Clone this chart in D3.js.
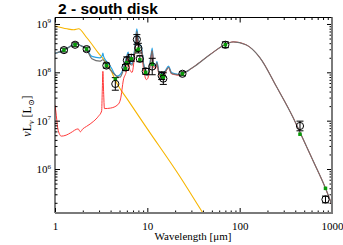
<!DOCTYPE html>
<html>
<head>
<meta charset="utf-8">
<script src="https://cdn.jsdelivr.net/npm/d3@7"></script>
<style>
  body { margin: 0; background: #fff; }
  svg { display: block; }
</style>
</head>
<body>
<script>
// wavelengths in micron, luminosities as log10(nuL_nu / Lsun)
var starLam = [1, 1.35, 1.6, 1.8, 2.2, 3.0, 3.9, 4.6, 6.3, 8.7, 10, 22.6, 40, 50];
var starLog = [8.96, 8.9, 8.88, 8.9, 8.72, 8.38, 8.1, 7.8, 7.4, 7.0, 6.83, 5.84, 5.09, 4.8];

var totLam = [1, 1.26, 1.69, 1.86, 2.2, 2.51, 3.07, 3.3, 3.63, 4.11, 4.66, 5.06, 5.5, 5.96, 6.2, 6.46,
              6.84, 7.24, 7.69, 8.13, 8.59, 9.12, 9.77, 10, 10.5, 11.0, 11.3, 11.7, 12.3, 12.7, 13.3,
              14.1, 15.5, 17.0, 18.2, 20, 21.4, 23.6, 31.6, 47.9, 72.4, 85.1, 117, 166, 251, 380,
              447, 631, 851, 1000];
var totLog = [8.39, 8.46, 8.59, 8.56, 8.47, 8.28, 8.23, 8.26, 8.14, 8.02, 7.92, 7.9, 8.05, 8.3,
              8.38, 8.18, 8.15, 8.4, 8.85, 8.55, 8.5, 8.15, 7.95, 7.93, 8.05, 8.35, 8.45, 8.15,
              8.12, 8.2, 8.0, 7.93, 8.0, 8.1, 7.98, 7.96, 7.95, 7.97, 8.11, 8.37, 8.59, 8.63,
              8.57, 8.3, 7.7, 7.06, 6.77, 6.15, 5.6, 5.25];

var dustLam = [1, 1.02, 1.07, 1.12, 1.17, 1.32, 1.48, 1.78, 1.88, 2.0, 2.19, 2.63, 2.95, 3.2,
               3.25, 3.3, 3.36, 3.43, 3.98, 4.79, 5.13, 5.5, 5.96, 6.2, 6.46, 6.84, 7.24, 7.69,
               8.13, 8.59, 9.12, 9.77, 10, 10.5, 11.0, 11.3, 11.7, 12.3, 12.7, 13.3, 14.1, 15.5,
               17.0, 18.2, 20, 21.4, 23.6, 31.6, 47.9, 72.4, 85.1, 117, 166, 251, 380, 447, 631,
               851, 1000];
var dustLog = [7.32, 7.2, 6.85, 6.72, 6.68, 6.7, 6.75, 6.83, 6.77, 6.83, 6.88, 6.99, 7.09, 7.2,
               7.6, 8.02, 7.6, 7.25, 7.26, 7.33, 7.45, 7.84, 8.05, 8.3, 8.05, 8.0, 8.3, 8.75, 8.45,
               8.45, 8.05, 7.85, 7.86, 8.0, 8.32, 8.43, 8.1, 8.08, 8.17, 7.97, 7.9, 7.98, 8.1, 7.97,
               7.95, 7.94, 7.96, 8.11, 8.37, 8.59, 8.63, 8.57, 8.3, 7.7, 7.06, 6.77, 6.15, 5.6, 5.25];

var blueLam = [1, 1.26, 1.69, 1.86, 2.2, 2.51, 3.07, 3.25, 3.3, 3.36, 3.63, 4.11, 4.47, 4.66, 5.06,
               5.5, 5.96, 6.2, 6.46, 6.84, 7.24, 7.69, 8.13, 8.59, 9.12, 9.77, 10, 10.5, 11.0, 11.3,
               11.7, 12.3, 12.7, 13.3, 14.1, 15.5, 17.0, 18.2, 20, 21.4, 23.6, 28.2];
var blueLog = [8.39, 8.46, 8.59, 8.56, 8.48, 8.33, 8.3, 8.35, 8.4, 8.33, 8.22, 8.08, 7.95, 7.92,
               7.95, 8.08, 8.32, 8.42, 8.22, 8.18, 8.44, 8.9, 8.58, 8.54, 8.18, 7.97, 7.95, 8.07,
               8.37, 8.5, 8.17, 8.14, 8.22, 8.02, 7.95, 8.02, 8.13, 8.0, 7.97, 7.96, 7.97, 8.04];

// observed photometry with errors (dex) and model photometry
var obsLam = [1.25, 1.65, 2.2, 3.6, 4.5, 5.8, 6.0, 6.7, 7.7, 8.0, 8.3, 9.6, 11.3, 14.3, 14.9, 24, 70, 450, 850];
var obsLog = [8.46, 8.57, 8.48, 8.14, 7.76, 8.1, 8.25, 8.3, 8.68, 8.5, 8.28, 8.02, 8.12, 7.93, 7.87, 7.97, 8.57, 6.89, 5.37];
var obsErr = [0.04, 0.04, 0.04, 0.05, 0.13, 0.06, 0.07, 0.07, 0.1, 0.1, 0.06, 0.06, 0.17, 0.08, 0.12, 0.04, 0.06, 0.1, 0.07];
var modLog = [8.46, 8.57, 8.48, 8.14, 7.86, 8.08, 8.2, 8.28, 8.45, 8.48, 8.26, 8.0, 8.17, 7.93, 7.9, 7.97, 8.57, 6.72, 5.6];

var xTicks = [1, 10, 100, 1000];
var yTicks = [1e6, 1e7, 1e8, 1e9];

var w = 343, h = 245;
var padL = 55, padR = 332, padT = 17.5, padB = 213;

var svg = d3.select('body').append('svg')
  .attr('width', w)
  .attr('height', h);

var xScale = d3.scaleLog().domain([1, 1000]).range([padL, padR]);
var yScale = d3.scaleLog().domain([Math.pow(10, 5.09), Math.pow(10, 9.134)]).range([padB, padT]);

svg.append('clipPath').attr('id', 'plot')
  .append('rect')
  .attr('x', padL).attr('y', padT)
  .attr('width', padR - padL).attr('height', padB - padT);

function series(lam, lg) {
  return lam.map(function(l, i) { return [l, Math.pow(10, lg[i])]; });
}

var line = d3.line()
  .x(function(d) { return xScale(d[0]); })
  .y(function(d) { return yScale(d[1]); })
  .curve(d3.curveMonotoneX);

var plot = svg.append('g').attr('clip-path', 'url(#plot)');

plot.append('path').datum(series(starLam, starLog))
  .attr('d', line).attr('fill', 'none').attr('stroke', '#f7b500').attr('stroke-width', 1.1);
plot.append('path').datum(series(blueLam, blueLog))
  .attr('d', line).attr('fill', 'none').attr('stroke', '#2aa4e6').attr('stroke-width', 1.2);
plot.append('path').datum(series(dustLam, dustLog))
  .attr('d', line).attr('fill', 'none').attr('stroke', '#ff3a3a').attr('stroke-width', 1);
plot.append('path').datum(series(totLam, totLog))
  .attr('d', line).attr('fill', 'none').attr('stroke', '#707070').attr('stroke-width', 1.2);

// error bars
var obs = obsLam.map(function(l, i) {
  return { lam: l, v: obsLog[i], e: obsErr[i], m: modLog[i] };
});

var bars = plot.selectAll('g.obs').data(obs).enter().append('g').attr('class', 'obs');
bars.append('line')
  .attr('x1', function(d) { return xScale(d.lam); })
  .attr('x2', function(d) { return xScale(d.lam); })
  .attr('y1', function(d) { return yScale(Math.pow(10, d.v + d.e)); })
  .attr('y2', function(d) { return yScale(Math.pow(10, d.v - d.e)); })
  .attr('stroke', '#000').attr('stroke-width', 1);
[1, -1].forEach(function(s) {
  bars.append('line')
    .attr('x1', function(d) { return xScale(d.lam) - 3.5; })
    .attr('x2', function(d) { return xScale(d.lam) + 3.5; })
    .attr('y1', function(d) { return yScale(Math.pow(10, d.v + s * d.e)); })
    .attr('y2', function(d) { return yScale(Math.pow(10, d.v + s * d.e)); })
    .attr('stroke', '#000').attr('stroke-width', 1);
});
bars.append('rect')
  .attr('x', function(d) { return xScale(d.lam) - 1.75; })
  .attr('y', function(d) { return yScale(Math.pow(10, d.m)) - 1.75; })
  .attr('width', 3.5).attr('height', 3.5)
  .attr('fill', '#089a08');
bars.append('circle')
  .attr('cx', function(d) { return xScale(d.lam); })
  .attr('cy', function(d) { return yScale(Math.pow(10, d.v)); })
  .attr('r', 3.6)
  .attr('fill', 'none').attr('stroke', '#000').attr('stroke-width', 1);

// axes
function minors(lo, hi) {
  var out = [];
  for (var d = lo; d < hi; d *= 10) {
    for (var k = 2; k < 10; k++) out.push(k * d);
  }
  return out;
}
var xMinor = minors(1, 1000);
var yMinor = minors(1e5, 1e9).filter(function(v) {
  return v > yScale.domain()[0] && v < yScale.domain()[1];
});

var serif = 'Liberation Serif, DejaVu Serif, serif';

var xAxis = d3.axisBottom(xScale).tickValues(xTicks).tickFormat(d3.format('d')).tickSize(-5).tickPadding(9);
var gx = svg.append('g').attr('transform', 'translate(0,' + padB + ')').call(xAxis);
gx.append('g').call(d3.axisBottom(xScale).tickValues(xMinor).tickFormat('').tickSize(-2.5));
gx.selectAll('text').attr('font-family', serif).attr('font-size', 11).attr('fill', '#000');

var gxt = svg.append('g').attr('transform', 'translate(0,' + padT + ')')
  .call(d3.axisTop(xScale).tickValues(xTicks).tickFormat('').tickSize(-5));
gxt.append('g').call(d3.axisTop(xScale).tickValues(xMinor).tickFormat('').tickSize(-2.5));

var gy = svg.append('g').attr('transform', 'translate(' + padL + ',0)')
  .call(d3.axisLeft(yScale).tickValues(yTicks).tickSize(-5).tickFormat(''));
gy.append('g').call(d3.axisLeft(yScale).tickValues(yMinor).tickFormat('').tickSize(-2.5));

var gyr = svg.append('g').attr('transform', 'translate(' + padR + ',0)')
  .call(d3.axisRight(yScale).tickValues(yTicks).tickFormat('').tickSize(-5));
gyr.append('g').call(d3.axisRight(yScale).tickValues(yMinor).tickFormat('').tickSize(-2.5));

svg.selectAll('.domain').remove();
svg.selectAll('.tick line').attr('stroke', '#000');

// y tick labels 10^n
svg.selectAll('text.ylab').data(yTicks).enter().append('text')
  .attr('class', 'ylab')
  .attr('x', padL - 4)
  .attr('y', function(d) { return yScale(d) + 4; })
  .attr('text-anchor', 'end')
  .attr('font-family', serif)
  .attr('font-size', 11)
  .each(function(d) {
    var t = d3.select(this);
    t.append('tspan').text('10');
    t.append('tspan').attr('font-size', 7).attr('dy', -4.5).text(Math.round(Math.log10(d)));
  });

// frame
svg.append('line').attr('x1', padL).attr('x2', padR).attr('y1', padT).attr('y2', padT)
  .attr('stroke', '#000').attr('stroke-width', 1);
svg.append('line').attr('x1', padL).attr('x2', padL).attr('y1', padT).attr('y2', padB)
  .attr('stroke', '#000').attr('stroke-width', 1);
svg.append('line').attr('x1', padL).attr('x2', padR + 1).attr('y1', padB).attr('y2', padB)
  .attr('stroke', '#7a7a7a').attr('stroke-width', 2);
svg.append('line').attr('x1', padR).attr('x2', padR).attr('y1', padT).attr('y2', padB)
  .attr('stroke', '#7a7a7a').attr('stroke-width', 2);

// labels
svg.append('text')
  .attr('x', 58).attr('y', 14)
  .attr('font-family', 'Liberation Sans, Arial, sans-serif')
  .attr('font-weight', 'bold')
  .attr('font-size', 15.5)
  .text('2 - south disk');

svg.append('text')
  .attr('x', 193).attr('y', 240)
  .attr('text-anchor', 'middle')
  .attr('font-family', serif)
  .attr('font-size', 11)
  .text('Wavelength [\u03bcm]');

var yl = svg.append('text')
  .attr('transform', 'translate(31,116) rotate(-90)')
  .attr('text-anchor', 'middle')
  .attr('font-family', serif)
  .attr('font-size', 12);
yl.append('tspan').attr('font-style', 'italic').text('\u03bd');
yl.append('tspan').text('L');
yl.append('tspan').attr('font-size', 8).attr('dy', 2.5).attr('font-style', 'italic').text('\u03bd');
yl.append('tspan').attr('dy', -2.5).text(' [L');
yl.append('tspan').attr('font-size', 8).attr('dy', 2.5).text('\u2299');
yl.append('tspan').attr('dy', -2.5).text(']');
</script>
</body>
</html>
